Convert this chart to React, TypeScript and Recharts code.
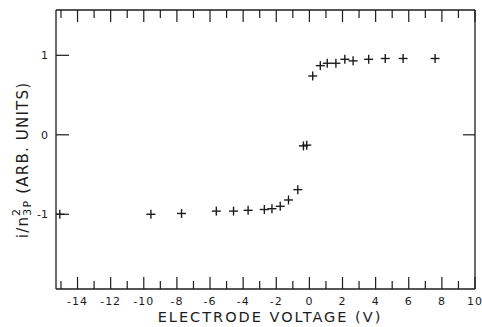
import { ScatterChart, Scatter, XAxis, YAxis } from 'recharts';

// electrode voltage (V) and normalised current i/n²(3P)
const voltage = [
  -15.07, -9.57, -7.72, -5.62, -4.58, -3.7, -2.72, -2.26, -1.76, -1.26, -0.7, -0.36, -0.16,
  0.2, 0.66, 1.08, 1.6, 2.14, 2.64, 3.58, 4.58, 5.66, 7.59,
];
const current = [
  -1.0, -1.0, -0.99, -0.96, -0.96, -0.95, -0.94, -0.93, -0.9, -0.82, -0.69, -0.14, -0.13,
  0.74, 0.87, 0.9, 0.9, 0.95, 0.93, 0.95, 0.96, 0.96, 0.96,
];

const xTicks = [-15, -14, -13, -12, -11, -10, -9, -8, -7, -6, -5, -4, -3, -2, -1, 0, 1, 2, 3, 4, 5, 6, 7, 8, 9, 10];
const yTicks = [-1, 0, 1];
const yTicksRight = [0];

const data = voltage.map((v, i) => ({ v, c: current[i] }));

const INK = '#1c1c1c';
const FONT = '"DejaVu Sans", sans-serif';

const Plus = (props: any) => {
  const { cx, cy } = props;
  return (
    <g stroke={INK} strokeWidth={1.4}>
      <line x1={cx - 4.5} y1={cy} x2={cx + 4.5} y2={cy} />
      <line x1={cx} y1={cy - 4.5} x2={cx} y2={cy + 4.5} />
    </g>
  );
};

const Nothing = () => <g />;

const BottomTick = (props: any) => {
  const { x, y, payload } = props;
  const major = payload.value % 2 === 0;
  return (
    <g>
      <line x1={x} y1={y} x2={x} y2={y - (major ? 12 : 8)} stroke={INK} strokeWidth={1.2} />
      {major && (
        <text x={x} y={y + 16} textAnchor="middle" fontSize={11} fontFamily={FONT} fill={INK} letterSpacing={1}>
          {payload.value}
        </text>
      )}
    </g>
  );
};

const TopTick = (props: any) => {
  const { x, y, payload } = props;
  const major = payload.value % 2 === 0;
  return <line x1={x} y1={y} x2={x} y2={y + (major ? 12 : 8)} stroke={INK} strokeWidth={1.2} />;
};

const LeftTick = (props: any) => {
  const { x, y, payload } = props;
  return (
    <g>
      <line x1={x} y1={y} x2={x + 13} y2={y} stroke={INK} strokeWidth={1.2} />
      <text x={x - 8} y={y + 4} textAnchor="end" fontSize={11} fontFamily={FONT} fill={INK}>
        {payload.value}
      </text>
    </g>
  );
};

const RightTick = (props: any) => {
  const { x, y } = props;
  return <line x1={x} y1={y} x2={x - 12} y2={y} stroke={INK} strokeWidth={1.2} />;
};

const XLabel = () => (
  <text x={270} y={322} textAnchor="middle" fontSize={14.5} fontFamily={FONT} fill={INK} letterSpacing={2}>
    ELECTRODE VOLTAGE (V)
  </text>
);

export default function App() {
  return (
    <div style={{ position: 'absolute', left: 0, top: 0, background: '#fff' }}>
      <ScatterChart width={482} height={327} margin={{ top: 9, right: 6, bottom: 8, left: 16 }}>
        <XAxis
          xAxisId="b"
          type="number"
          dataKey="v"
          domain={[-15.3, 10]}
          ticks={xTicks}
          interval={0}
          height={30}
          tickSize={0}
          tickMargin={0}
          tickLine={false}
          axisLine={{ stroke: INK, strokeWidth: 1.3 }}
          tick={<BottomTick />}
          allowDataOverflow
          label={<XLabel />}
        />
        <XAxis
          xAxisId="t"
          orientation="top"
          type="number"
          dataKey="v"
          domain={[-15.3, 10]}
          ticks={xTicks}
          interval={0}
          height={1}
          tickSize={0}
          tickMargin={0}
          tickLine={false}
          axisLine={{ stroke: INK, strokeWidth: 1.3 }}
          tick={<TopTick />}
          allowDataOverflow
        />
        <YAxis
          yAxisId="l"
          type="number"
          dataKey="c"
          domain={[-1.94, 1.57]}
          ticks={yTicks}
          interval={0}
          width={40}
          tickSize={0}
          tickMargin={0}
          tickLine={false}
          axisLine={{ stroke: INK, strokeWidth: 1.3 }}
          tick={<LeftTick />}
          allowDataOverflow
        />
        <YAxis
          yAxisId="r"
          orientation="right"
          type="number"
          dataKey="c"
          domain={[-1.94, 1.57]}
          ticks={yTicksRight}
          interval={0}
          width={1}
          tickSize={0}
          tickMargin={0}
          tickLine={false}
          axisLine={{ stroke: INK, strokeWidth: 1.3 }}
          tick={<RightTick />}
          allowDataOverflow
        />
        <Scatter data={data} xAxisId="b" yAxisId="l" shape={<Plus />} isAnimationActive={false} />
        <Scatter data={data} xAxisId="t" yAxisId="r" shape={<Nothing />} isAnimationActive={false} />
      </ScatterChart>
      <svg width={482} height={327} style={{ position: 'absolute', left: 0, top: 0, pointerEvents: 'none' }}>
        <text
          x={28}
          y={160}
          transform="rotate(-90 28 160)"
          textAnchor="middle"
          fontSize={15}
          fontFamily={FONT}
          fill={INK}
          letterSpacing={1.2}
        >
          i/n
          <tspan fontSize={11} dy={-8}>2</tspan>
          <tspan fontSize={11} dx={-8} dy={11}>3P</tspan>
          <tspan dy={-3}> (ARB. UNITS)</tspan>
        </text>
      </svg>
    </div>
  );
}
